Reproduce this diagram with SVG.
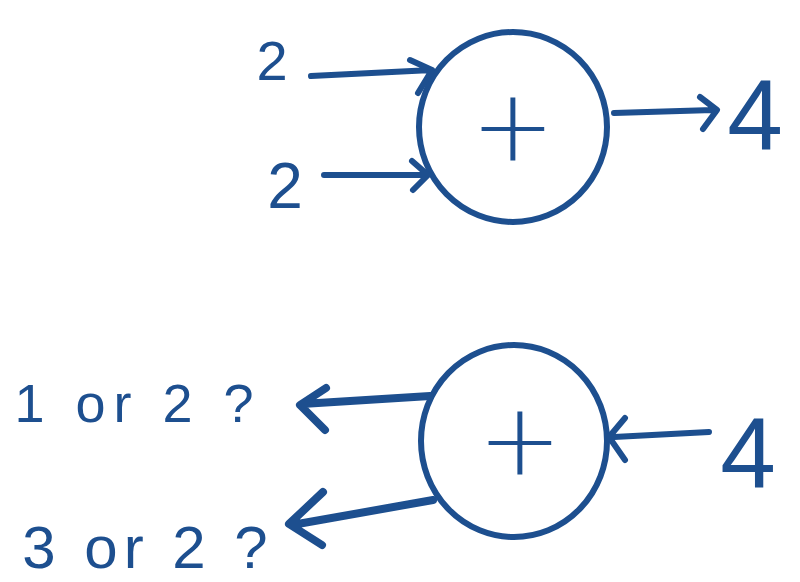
<svg xmlns="http://www.w3.org/2000/svg" width="800" height="582" viewBox="0 0 800 582">
<defs>
<style>
.ink{fill:none;stroke:#1d4f8f;stroke-width:6;stroke-linecap:round;stroke-linejoin:round}
.bold{stroke-width:8}
.t{fill:#1d4f8f;font-family:"Liberation Sans","DejaVu Sans",sans-serif}
.p{fill:#1d4f8f;font-family:"DejaVu Sans","Liberation Sans",sans-serif;font-weight:200}
</style>
</defs>
<rect width="800" height="582" fill="#ffffff"/>
<g id="sum-top">
<ellipse class="ink" cx="513" cy="127" rx="94" ry="95"/>
<text class="p" x="513" y="160" font-size="100" text-anchor="middle">+</text>
</g>
<g id="sum-bottom">
<ellipse class="ink" cx="514" cy="441" rx="93" ry="96"/>
<text class="p" x="520" y="474" font-size="100" text-anchor="middle">+</text>
</g>
<g id="in-2a"><text class="t" x="272" y="80" font-size="56" text-anchor="middle">2</text></g>
<g id="in-2b"><text class="t" x="285" y="208" font-size="64" text-anchor="middle">2</text></g>
<g id="out-4"><text class="t" x="755" y="150" font-size="100" text-anchor="middle">4</text></g>
<g id="in-4"><text class="t" x="748" y="488" font-size="100" text-anchor="middle">4</text></g>
<g id="guess-1"><text class="t" x="138" y="422" font-size="54" text-anchor="middle" letter-spacing="8">1 or 2 ?</text></g>
<g id="guess-2"><text class="t" x="148" y="568" font-size="60" text-anchor="middle" letter-spacing="6">3 or 2 ?</text></g>
<g id="connectors">
<path class="ink" d="M311 76 L432 70 M410 60 L432 70 L418 93"/>
<path class="ink" d="M324 175 L428 175 M412 161 L428 175 L413 190"/>
<path class="ink" d="M614 113 L713 110 M700 97 L717 110 L703 129"/>
<path class="ink bold" d="M430 396 L302 404 M326 388 L300 405 L325 430"/>
<path class="ink bold" d="M433 500 L292 525 M323 492 L289 524 L322 545"/>
<path class="ink" d="M709 432 L614 437 M625 418 L609 437 L625 460"/>
</g>
</svg>
